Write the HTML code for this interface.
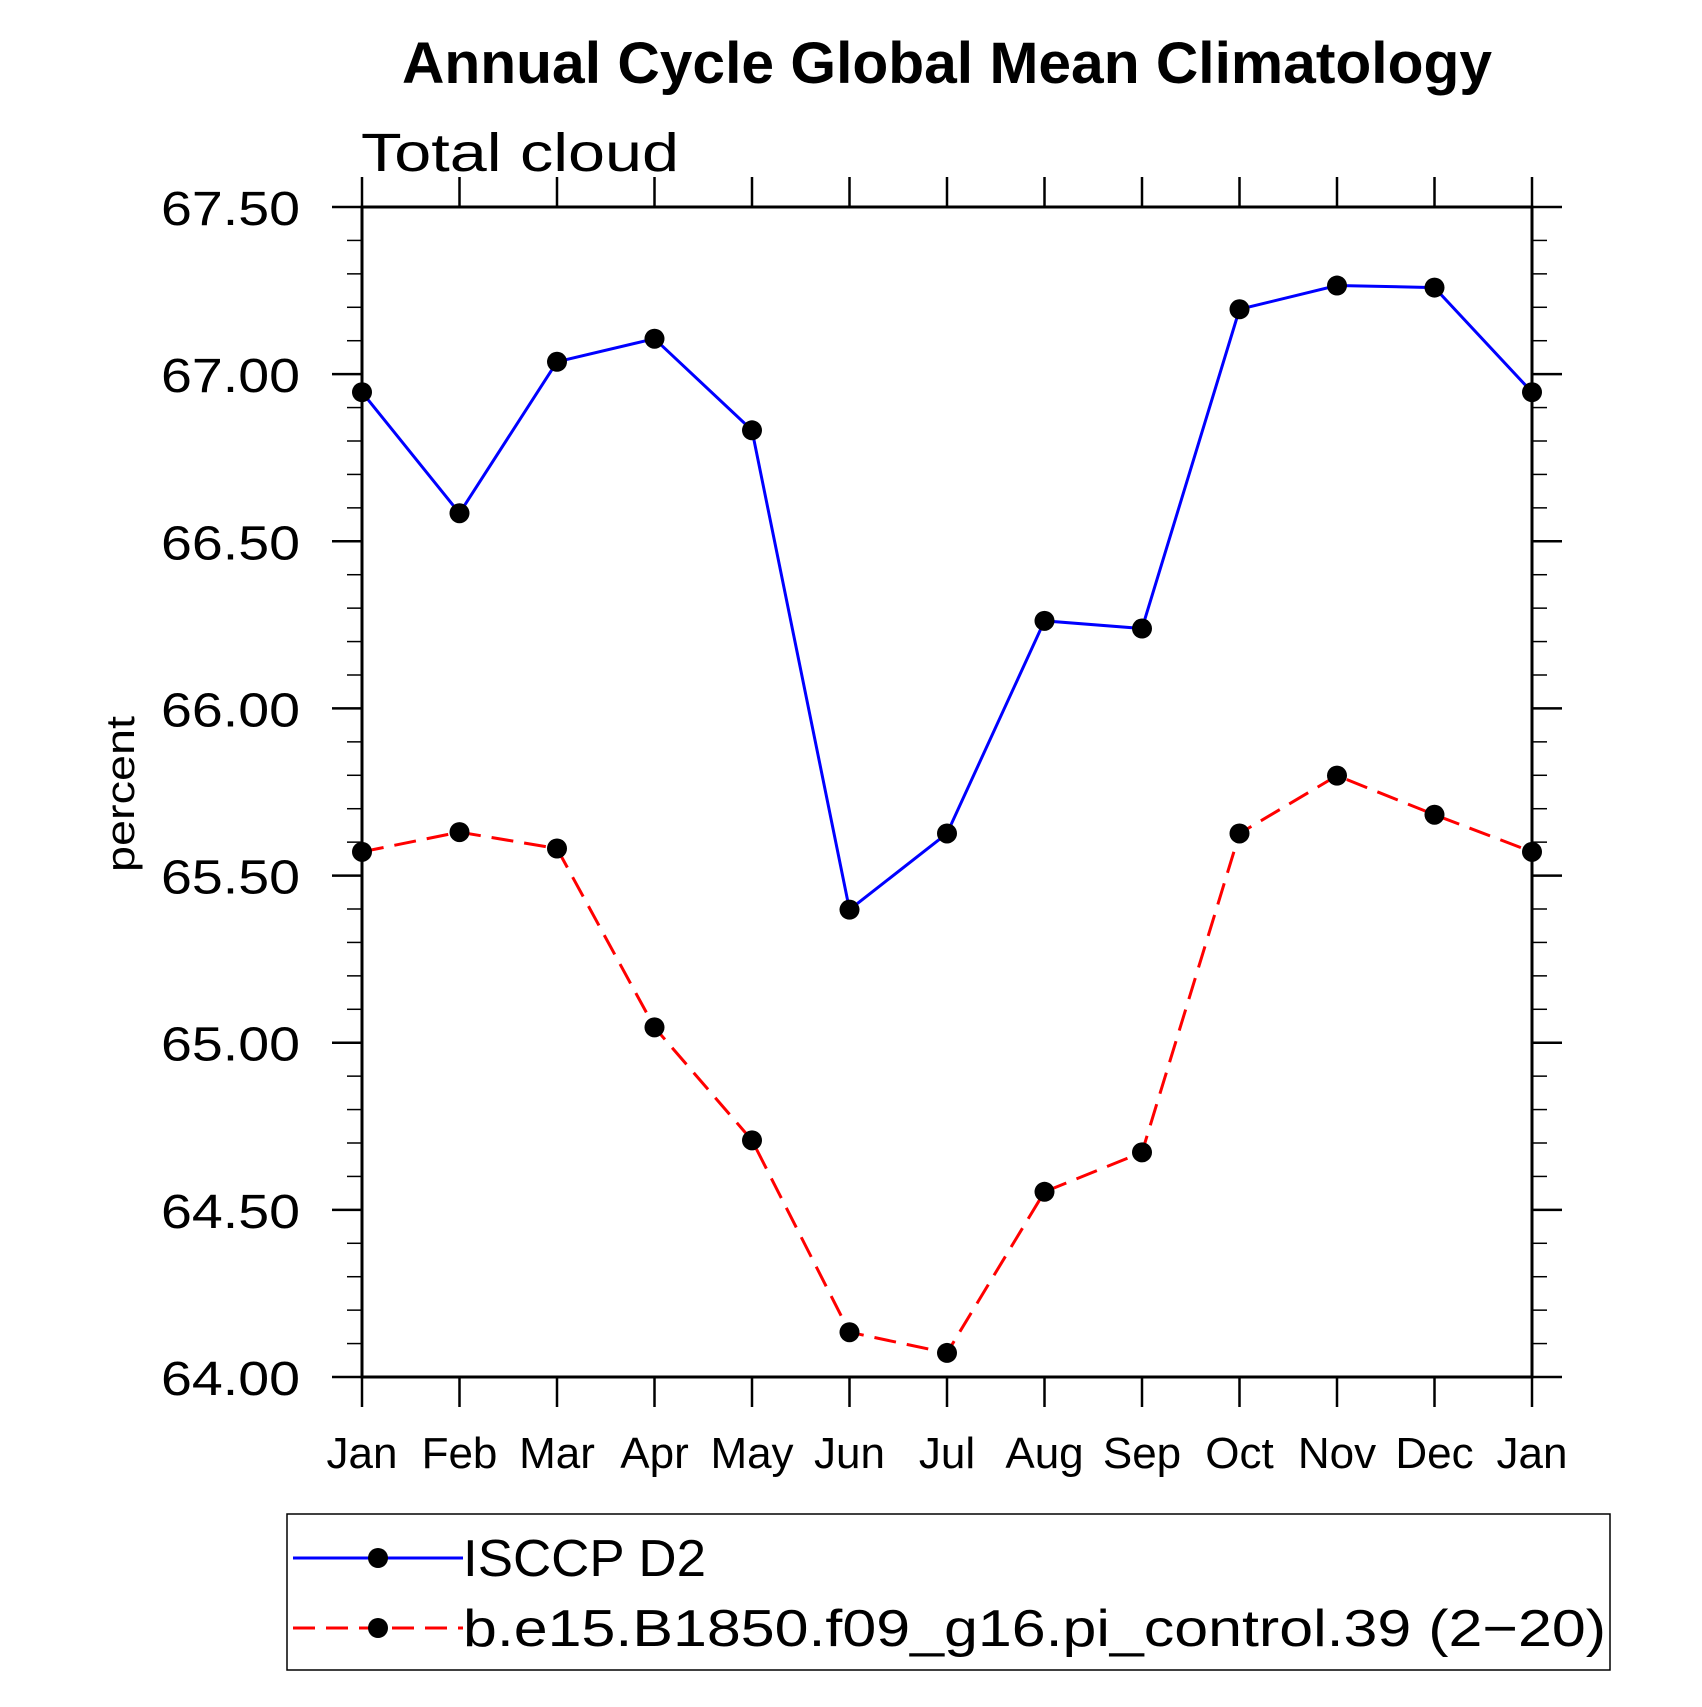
<!DOCTYPE html>
<html><head><meta charset="utf-8"><style>
body{margin:0;background:#fff}
svg text{font-family:"Liberation Sans",sans-serif}
</style></head><body>
<svg id="chart" width="1702" height="1702" viewBox="0 0 1702 1702" xmlns="http://www.w3.org/2000/svg">
<text x="947" y="83" text-anchor="middle" font-size="58" font-weight="bold" textLength="1090" lengthAdjust="spacingAndGlyphs">Annual Cycle Global Mean Climatology</text>
<text x="361" y="171" font-size="54" textLength="318" lengthAdjust="spacingAndGlyphs">Total cloud</text>
<text transform="translate(134,794) rotate(-90)" text-anchor="middle" font-size="40" textLength="156" lengthAdjust="spacingAndGlyphs">percent</text>
<g id="axes"></g>
<g id="series"></g>
<g>
<rect x="287" y="1514" width="1323" height="156" fill="none" stroke="#000" stroke-width="1.5"/>
<g>
<line x1="293" y1="1558" x2="463" y2="1558" stroke="#0000ff" stroke-width="3"/>
<circle cx="378" cy="1558" r="10" fill="#000"/>
<text x="463" y="1576" font-size="52" textLength="243" lengthAdjust="spacingAndGlyphs">ISCCP D2</text></g>
<g>
<line x1="293" y1="1628" x2="463" y2="1628" stroke="#ff0000" stroke-width="3" stroke-dasharray="22,11"/>
<circle cx="378" cy="1628" r="10" fill="#000"/>
<text x="463" y="1646" font-size="52" textLength="1143" lengthAdjust="spacingAndGlyphs">b.e15.B1850.f09_g16.pi_control.39 (2−20)</text></g>
</g>
</svg>
<script>
const months = ["Jan","Feb","Mar","Apr","May","Jun","Jul","Aug","Sep","Oct","Nov","Dec","Jan"];
const isccp = [66.946,66.584,67.037,67.106,66.832,65.398,65.626,66.262,66.239,67.194,67.265,67.259,66.946];
const model = [65.571,65.630,65.581,65.046,64.708,64.134,64.072,64.554,64.672,65.626,65.799,65.682,65.571];
const yTicks = [64.0,64.5,65.0,65.5,66.0,66.5,67.0,67.5];
const yTickLabels = ["64.00","64.50","65.00","65.50","66.00","66.50","67.00","67.50"];

const L=362,R=1532,T=207,B=1377,yMin=64,yMax=67.5;
const xs=i=>L+(R-L)*i/(months.length-1);
const ys=v=>B-(v-yMin)/(yMax-yMin)*(B-T);
const NS="http://www.w3.org/2000/svg";
function mk(tag,attrs,parent){const e=document.createElementNS(NS,tag);for(const k in attrs)e.setAttribute(k,attrs[k]);parent.appendChild(e);return e;}
const ax=document.getElementById('axes');
const frame=mk('rect',{x:L,y:T,width:R-L,height:B-T,fill:'none',stroke:'#000','stroke-width':3},ax);


months.forEach((m,i)=>{
  const x=xs(i);
  mk('line',{x1:x,y1:B,x2:x,y2:B+30,stroke:'#000','stroke-width':2.5},ax);
  mk('line',{x1:x,y1:T,x2:x,y2:T-30,stroke:'#000','stroke-width':2.5},ax);
  const t=mk('text',{x:x,y:1468,'text-anchor':'middle','font-size':44},ax);
  t.textContent=m;
  
  
});
for(let k=0;k<=35;k++){
  const v=yMin+k*0.1,y=ys(v),major=k%5===0,len=major?30:15;
  mk('line',{x1:L-len,y1:y,x2:L,y2:y,stroke:'#000','stroke-width':major?2.5:1.5},ax);
  mk('line',{x1:R,y1:y,x2:R+len,y2:y,stroke:'#000','stroke-width':major?2.5:1.5},ax);
}
yTicks.forEach((v,i)=>{
  const t=mk('text',{x:300,y:ys(v)+18,'text-anchor':'end','font-size':48,textLength:139,lengthAdjust:'spacingAndGlyphs'},ax);
  t.textContent=yTickLabels[i];
  
  
});
const sg=document.getElementById('series');
function drawSeries(data,color,dash,name){
  const g=mk('g',{},sg);
  
  
  const pts=data.map((v,i)=>xs(i)+','+ys(v)).join(' ');
  const pl=mk('polyline',{points:pts,fill:'none',stroke:color,'stroke-width':3,'stroke-dasharray':dash},g);
  
  
  data.forEach((v,i)=>{
    const c=mk('circle',{cx:xs(i),cy:ys(v),r:10,fill:'#000'},g);
    
    
  });
}
drawSeries(isccp,'#0000ff','none','isccp-series');
drawSeries(model,'#ff0000','22,11','model-series');
</script>
</body></html>
